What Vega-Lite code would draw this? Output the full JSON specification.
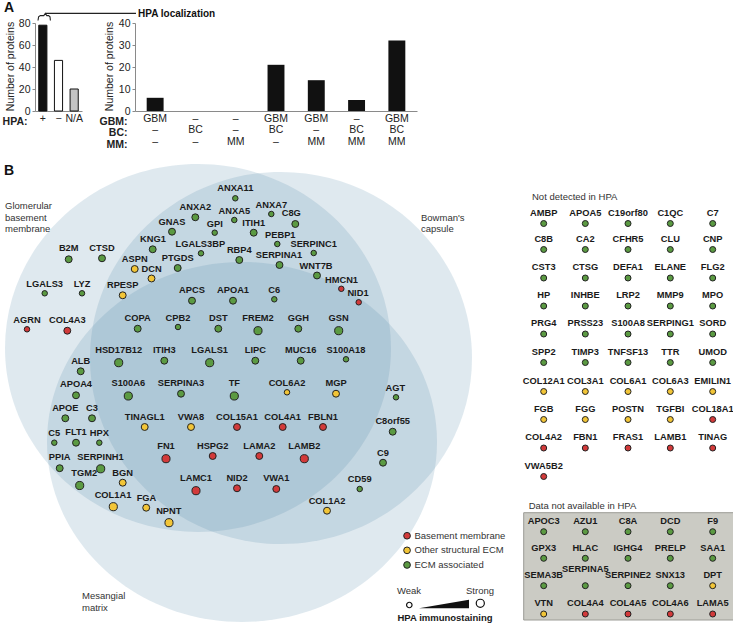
{
  "$schema": "https://vega.github.io/schema/vega-lite/v6.json",
  "padding": {"left": 2, "top": 0, "right": 0, "bottom": 0},
  "background": "white",
  "bounds": "flush",
  "spacing": 147,
  "config": {
    "font": "Liberation Sans",
    "view": {"stroke": null},
    "axis": {"labelFont": "Liberation Sans", "titleFont": "Liberation Sans", "labelColor": "#222", "titleColor": "#222", "domainColor": "#8a8a8a", "tickColor": "#8a8a8a", "grid": false, "labelFontSize": 10.5, "titleFontSize": 10.5, "tickSize": 3},
    "legend": {"labelFont": "Liberation Sans"}
  },
  "datasets": {
    "hpa": [
      {"hpa": "+", "n": 78},
      {"hpa": "−", "n": 46},
      {"hpa": "N/A", "n": 20}
    ],
    "combo": [
      {"combo": "GBM|–|–", "n": 6},
      {"combo": "–|BC|–", "n": 0},
      {"combo": "–|–|MM", "n": 0},
      {"combo": "GBM|BC|–", "n": 21},
      {"combo": "GBM|–|MM", "n": 14},
      {"combo": "–|BC|MM", "n": 5},
      {"combo": "GBM|BC|MM", "n": 32}
    ],
    "sets": [
      {"set": "GBM", "x": 196, "y": 348, "a": 193},
      {"set": "BC", "x": 279, "y": 358, "a": 191},
      {"set": "MM", "x": 240, "y": 442, "a": 195}
    ],
    "box": [{"x": 521.7, "x2": 731.7, "y": 512.7, "y2": 620}],
    "regions": [
      {"text": "Glomerular\nbasement\nmembrane", "x": 3, "y": 201},
      {"text": "Bowman's\ncapsule", "x": 419, "y": 212.7},
      {"text": "Mesangial\nmatrix", "x": 80, "y": 591.4}
    ],
    "bracket": [
      {"id": "brace", "seq": 1, "x": 36, "y": 20.5},
      {"id": "brace", "seq": 2, "x": 36.6, "y": 16.8},
      {"id": "brace", "seq": 3, "x": 38.3, "y": 15.6},
      {"id": "brace", "seq": 4, "x": 41.8, "y": 15.6},
      {"id": "brace", "seq": 5, "x": 43.3, "y": 13.4},
      {"id": "brace", "seq": 6, "x": 44.8, "y": 15.6},
      {"id": "brace", "seq": 7, "x": 46.6, "y": 15.6},
      {"id": "brace", "seq": 8, "x": 48, "y": 16.8},
      {"id": "brace", "seq": 9, "x": 48.4, "y": 20.5},
      {"id": "line", "seq": 1, "x": 43.3, "y": 13.4},
      {"id": "line", "seq": 2, "x": 134, "y": 13.4}
    ],
    "notes": [
      {"kind": "letter", "text": "A", "x": 2, "y": 0.5},
      {"kind": "letter", "text": "B", "x": 2, "y": 164},
      {"kind": "title", "text": "HPA localization", "x": 136, "y": 14},
      {"kind": "header", "text": "Not detected in HPA", "x": 530, "y": 196.7},
      {"kind": "header", "text": "Data not available in HPA", "x": 526.7, "y": 505.7},
      {"kind": "scale", "text": "Weak", "x": 407, "y": 590.7},
      {"kind": "scale", "text": "Strong", "x": 478, "y": 590.7},
      {"kind": "scaletitle", "text": "HPA immunostaining", "x": 443, "y": 618.3}
    ],
    "sizeleg": [
      {"stain": "weak", "x": 407.3, "y": 605},
      {"stain": "strong", "x": 478.3, "y": 603.3}
    ],
    "wedge": [{"x": 442, "y": 604}],
    "venn": [
      {"name": "B2M", "cat": "ECM associated", "stain": "moderate", "x": 66.7, "y": 259.3, "lx": 66.7, "ly": 247.7},
      {"name": "CTSD", "cat": "ECM associated", "stain": "moderate", "x": 100, "y": 258.3, "lx": 100, "ly": 247.7},
      {"name": "LGALS3", "cat": "ECM associated", "stain": "weak", "x": 42.7, "y": 293.3, "lx": 42.7, "ly": 284.3},
      {"name": "LYZ", "cat": "ECM associated", "stain": "weak", "x": 80, "y": 293.3, "lx": 80, "ly": 284.3},
      {"name": "AGRN", "cat": "Basement membrane", "stain": "weak", "x": 25, "y": 329.3, "lx": 25, "ly": 320},
      {"name": "COL4A3", "cat": "Basement membrane", "stain": "moderate", "x": 65.3, "y": 330.7, "lx": 65.3, "ly": 320},
      {"name": "ANXA11", "cat": "ECM associated", "stain": "weak", "x": 233.3, "y": 198.3, "lx": 233.3, "ly": 188.3},
      {"name": "ANXA2", "cat": "ECM associated", "stain": "moderate", "x": 193.3, "y": 217.3, "lx": 193.3, "ly": 206.7},
      {"name": "ANXA5", "cat": "ECM associated", "stain": "weak", "x": 232.3, "y": 220, "lx": 232.3, "ly": 210.7},
      {"name": "ANXA7", "cat": "ECM associated", "stain": "weak", "x": 269.3, "y": 214, "lx": 269.3, "ly": 205},
      {"name": "C8G", "cat": "ECM associated", "stain": "moderate", "x": 293.3, "y": 224, "lx": 289.3, "ly": 213.3},
      {"name": "GNAS", "cat": "ECM associated", "stain": "moderate", "x": 170, "y": 231.7, "lx": 170, "ly": 221.7},
      {"name": "GPI", "cat": "ECM associated", "stain": "weak", "x": 212.7, "y": 232.7, "lx": 212.7, "ly": 224},
      {"name": "ITIH1", "cat": "ECM associated", "stain": "moderate", "x": 251.7, "y": 232.7, "lx": 251.7, "ly": 223.3},
      {"name": "PEBP1", "cat": "ECM associated", "stain": "weak", "x": 275.3, "y": 244, "lx": 278.3, "ly": 235},
      {"name": "KNG1", "cat": "ECM associated", "stain": "moderate", "x": 150.7, "y": 249.3, "lx": 151, "ly": 239.3},
      {"name": "LGALS3BP", "cat": "ECM associated", "stain": "weak", "x": 199, "y": 253.3, "lx": 198.3, "ly": 244},
      {"name": "RBP4", "cat": "ECM associated", "stain": "moderate", "x": 237.3, "y": 260, "lx": 237.3, "ly": 250},
      {"name": "SERPINC1", "cat": "ECM associated", "stain": "weak", "x": 311.7, "y": 253, "lx": 311.7, "ly": 244.2},
      {"name": "PTGDS", "cat": "ECM associated", "stain": "moderate", "x": 175.7, "y": 268, "lx": 175.7, "ly": 257.7},
      {"name": "SERPINA1", "cat": "ECM associated", "stain": "moderate", "x": 277.5, "y": 265, "lx": 277, "ly": 255},
      {"name": "ASPN", "cat": "Other structural ECM", "stain": "moderate", "x": 132.7, "y": 269, "lx": 132.7, "ly": 259},
      {"name": "DCN", "cat": "Other structural ECM", "stain": "moderate", "x": 149.5, "y": 278.5, "lx": 149.7, "ly": 268.5},
      {"name": "WNT7B", "cat": "ECM associated", "stain": "moderate", "x": 315, "y": 275.5, "lx": 314, "ly": 265.7},
      {"name": "HMCN1", "cat": "Basement membrane", "stain": "weak", "x": 339.3, "y": 288.8, "lx": 339.5, "ly": 280},
      {"name": "NID1", "cat": "Basement membrane", "stain": "weak", "x": 356.7, "y": 302.3, "lx": 356, "ly": 293.3},
      {"name": "RPESP", "cat": "Other structural ECM", "stain": "moderate", "x": 120.7, "y": 295.3, "lx": 120.7, "ly": 285},
      {"name": "APCS", "cat": "ECM associated", "stain": "moderate", "x": 190, "y": 300.7, "lx": 190, "ly": 290},
      {"name": "APOA1", "cat": "ECM associated", "stain": "moderate", "x": 231, "y": 300.7, "lx": 231, "ly": 290},
      {"name": "C6", "cat": "ECM associated", "stain": "weak", "x": 272.3, "y": 299.3, "lx": 272.3, "ly": 290},
      {"name": "COPA", "cat": "ECM associated", "stain": "moderate", "x": 135.7, "y": 328.7, "lx": 135.7, "ly": 318.3},
      {"name": "CPB2", "cat": "ECM associated", "stain": "weak", "x": 176, "y": 327, "lx": 176, "ly": 318.3},
      {"name": "DST", "cat": "ECM associated", "stain": "moderate", "x": 216.3, "y": 328.7, "lx": 216.3, "ly": 318.3},
      {"name": "FREM2", "cat": "ECM associated", "stain": "strong", "x": 256, "y": 330.7, "lx": 256, "ly": 318.3},
      {"name": "GGH", "cat": "ECM associated", "stain": "moderate", "x": 296.3, "y": 328.7, "lx": 296.3, "ly": 318.3},
      {"name": "GSN", "cat": "ECM associated", "stain": "strong", "x": 336.7, "y": 330.7, "lx": 336.7, "ly": 318.3},
      {"name": "HSD17B12", "cat": "ECM associated", "stain": "strong", "x": 116.7, "y": 362.7, "lx": 116.7, "ly": 350.3},
      {"name": "ITIH3", "cat": "ECM associated", "stain": "moderate", "x": 162.3, "y": 360.7, "lx": 162.3, "ly": 350.3},
      {"name": "LGALS1", "cat": "ECM associated", "stain": "strong", "x": 207.7, "y": 362.7, "lx": 207.7, "ly": 350.3},
      {"name": "LIPC", "cat": "ECM associated", "stain": "moderate", "x": 253.3, "y": 360.7, "lx": 253.3, "ly": 350.3},
      {"name": "MUC16", "cat": "ECM associated", "stain": "moderate", "x": 298.7, "y": 360.7, "lx": 298.7, "ly": 350.3},
      {"name": "S100A18", "cat": "ECM associated", "stain": "weak", "x": 344, "y": 359.3, "lx": 344, "ly": 350.3},
      {"name": "S100A6", "cat": "ECM associated", "stain": "strong", "x": 126.3, "y": 396, "lx": 126.3, "ly": 383.3},
      {"name": "SERPINA3", "cat": "ECM associated", "stain": "moderate", "x": 179, "y": 393.7, "lx": 179, "ly": 383.3},
      {"name": "TF", "cat": "ECM associated", "stain": "strong", "x": 232.3, "y": 396, "lx": 232.3, "ly": 383.3},
      {"name": "COL6A2", "cat": "Other structural ECM", "stain": "weak", "x": 285, "y": 392.3, "lx": 285, "ly": 383.3},
      {"name": "MGP", "cat": "Other structural ECM", "stain": "moderate", "x": 334, "y": 393.7, "lx": 334, "ly": 383.3},
      {"name": "TINAGL1", "cat": "Other structural ECM", "stain": "moderate", "x": 142.7, "y": 427, "lx": 142.7, "ly": 416.7},
      {"name": "VWA8", "cat": "Other structural ECM", "stain": "moderate", "x": 189, "y": 427, "lx": 189, "ly": 416.7},
      {"name": "COL15A1", "cat": "Basement membrane", "stain": "moderate", "x": 235, "y": 427, "lx": 235, "ly": 416.7},
      {"name": "COL4A1", "cat": "Basement membrane", "stain": "moderate", "x": 280.7, "y": 427, "lx": 280.7, "ly": 416.7},
      {"name": "FBLN1", "cat": "Basement membrane", "stain": "moderate", "x": 321, "y": 427, "lx": 321, "ly": 416.7},
      {"name": "FN1", "cat": "Basement membrane", "stain": "strong", "x": 164, "y": 458.7, "lx": 164, "ly": 446},
      {"name": "HSPG2", "cat": "Basement membrane", "stain": "moderate", "x": 210.7, "y": 456, "lx": 210.7, "ly": 446},
      {"name": "LAMA2", "cat": "Basement membrane", "stain": "moderate", "x": 257.3, "y": 456, "lx": 257.3, "ly": 446},
      {"name": "LAMB2", "cat": "Basement membrane", "stain": "strong", "x": 302.3, "y": 458.7, "lx": 302.3, "ly": 446},
      {"name": "LAMC1", "cat": "Basement membrane", "stain": "strong", "x": 194, "y": 490.7, "lx": 194, "ly": 478.3},
      {"name": "NID2", "cat": "Basement membrane", "stain": "moderate", "x": 235, "y": 488.3, "lx": 235, "ly": 478.3},
      {"name": "VWA1", "cat": "Basement membrane", "stain": "moderate", "x": 274.3, "y": 489, "lx": 274.3, "ly": 478.3},
      {"name": "ALB", "cat": "ECM associated", "stain": "moderate", "x": 78.7, "y": 371.3, "lx": 78.7, "ly": 361},
      {"name": "APOA4", "cat": "ECM associated", "stain": "moderate", "x": 74, "y": 395.3, "lx": 74, "ly": 384.3},
      {"name": "APOE", "cat": "ECM associated", "stain": "moderate", "x": 63.3, "y": 418.3, "lx": 63.3, "ly": 407.7},
      {"name": "C3", "cat": "ECM associated", "stain": "moderate", "x": 90, "y": 418.3, "lx": 90, "ly": 407.7},
      {"name": "C5", "cat": "ECM associated", "stain": "weak", "x": 52.3, "y": 442.7, "lx": 52.3, "ly": 433.3},
      {"name": "FLT1", "cat": "ECM associated", "stain": "moderate", "x": 74, "y": 442.7, "lx": 74, "ly": 432.3},
      {"name": "HPX", "cat": "ECM associated", "stain": "weak", "x": 97.3, "y": 442.7, "lx": 97.3, "ly": 433.3},
      {"name": "PPIA", "cat": "ECM associated", "stain": "moderate", "x": 57.7, "y": 468.2, "lx": 57.7, "ly": 457.3},
      {"name": "SERPINH1", "cat": "ECM associated", "stain": "strong", "x": 98.7, "y": 468.8, "lx": 98.5, "ly": 457},
      {"name": "TGM2", "cat": "ECM associated", "stain": "strong", "x": 77.7, "y": 485.5, "lx": 82.2, "ly": 473.3},
      {"name": "BGN", "cat": "Other structural ECM", "stain": "moderate", "x": 120.7, "y": 482.7, "lx": 120.7, "ly": 472.7},
      {"name": "COL1A1", "cat": "Other structural ECM", "stain": "strong", "x": 111.3, "y": 506.7, "lx": 111, "ly": 494.5},
      {"name": "FGA", "cat": "Other structural ECM", "stain": "moderate", "x": 144.2, "y": 507.7, "lx": 144.5, "ly": 497.8},
      {"name": "NPNT", "cat": "Other structural ECM", "stain": "strong", "x": 167, "y": 522.7, "lx": 166.8, "ly": 510.7},
      {"name": "AGT", "cat": "ECM associated", "stain": "weak", "x": 394, "y": 397.3, "lx": 393.3, "ly": 388.3},
      {"name": "C8orf55", "cat": "ECM associated", "stain": "moderate", "x": 390.7, "y": 431.7, "lx": 390.7, "ly": 420.7},
      {"name": "C9", "cat": "ECM associated", "stain": "moderate", "x": 381, "y": 462.7, "lx": 381, "ly": 452.7},
      {"name": "CD59", "cat": "ECM associated", "stain": "weak", "x": 357.7, "y": 489, "lx": 357.7, "ly": 479.3},
      {"name": "COL1A2", "cat": "Other structural ECM", "stain": "moderate", "x": 325, "y": 510.7, "lx": 325, "ly": 501}
    ],
    "lists": [
      {"name": "AMBP", "cat": "ECM associated", "x": 541.7, "y": 223.5, "ly": 212.7},
      {"name": "APOA5", "cat": "ECM associated", "x": 583.3, "y": 223.5, "ly": 212.7},
      {"name": "C19orf80", "cat": "ECM associated", "x": 626, "y": 223.5, "ly": 212.7},
      {"name": "C1QC", "cat": "ECM associated", "x": 668.3, "y": 223.5, "ly": 212.7},
      {"name": "C7", "cat": "ECM associated", "x": 710.7, "y": 223.5, "ly": 212.7},
      {"name": "C8B", "cat": "ECM associated", "x": 541.7, "y": 249.5, "ly": 238.7},
      {"name": "CA2", "cat": "ECM associated", "x": 583.3, "y": 249.5, "ly": 238.7},
      {"name": "CFHR5", "cat": "ECM associated", "x": 626, "y": 249.5, "ly": 238.7},
      {"name": "CLU", "cat": "ECM associated", "x": 668.3, "y": 249.5, "ly": 238.7},
      {"name": "CNP", "cat": "ECM associated", "x": 710.7, "y": 249.5, "ly": 238.7},
      {"name": "CST3", "cat": "ECM associated", "x": 541.7, "y": 278, "ly": 267.2},
      {"name": "CTSG", "cat": "ECM associated", "x": 583.3, "y": 278, "ly": 267.2},
      {"name": "DEFA1", "cat": "ECM associated", "x": 626, "y": 278, "ly": 267.2},
      {"name": "ELANE", "cat": "ECM associated", "x": 668.3, "y": 278, "ly": 267.2},
      {"name": "FLG2", "cat": "ECM associated", "x": 710.7, "y": 278, "ly": 267.2},
      {"name": "HP", "cat": "ECM associated", "x": 541.7, "y": 306, "ly": 295.2},
      {"name": "INHBE", "cat": "ECM associated", "x": 583.3, "y": 306, "ly": 295.2},
      {"name": "LRP2", "cat": "ECM associated", "x": 626, "y": 306, "ly": 295.2},
      {"name": "MMP9", "cat": "ECM associated", "x": 668.3, "y": 306, "ly": 295.2},
      {"name": "MPO", "cat": "ECM associated", "x": 710.7, "y": 306, "ly": 295.2},
      {"name": "PRG4", "cat": "ECM associated", "x": 541.7, "y": 334, "ly": 323.2},
      {"name": "PRSS23", "cat": "ECM associated", "x": 583.3, "y": 334, "ly": 323.2},
      {"name": "S100A8", "cat": "ECM associated", "x": 626, "y": 334, "ly": 323.2},
      {"name": "SERPING1", "cat": "ECM associated", "x": 668.3, "y": 334, "ly": 323.2},
      {"name": "SORD", "cat": "ECM associated", "x": 710.7, "y": 334, "ly": 323.2},
      {"name": "SPP2", "cat": "ECM associated", "x": 541.7, "y": 362.5, "ly": 351.7},
      {"name": "TIMP3", "cat": "ECM associated", "x": 583.3, "y": 362.5, "ly": 351.7},
      {"name": "TNFSF13", "cat": "ECM associated", "x": 626, "y": 362.5, "ly": 351.7},
      {"name": "TTR", "cat": "ECM associated", "x": 668.3, "y": 362.5, "ly": 351.7},
      {"name": "UMOD", "cat": "ECM associated", "x": 710.7, "y": 362.5, "ly": 351.7},
      {"name": "COL12A1", "cat": "Other structural ECM", "x": 541.7, "y": 391.5, "ly": 380.7},
      {"name": "COL3A1", "cat": "Other structural ECM", "x": 583.3, "y": 391.5, "ly": 380.7},
      {"name": "COL6A1", "cat": "Other structural ECM", "x": 626, "y": 391.5, "ly": 380.7},
      {"name": "COL6A3", "cat": "Other structural ECM", "x": 668.3, "y": 391.5, "ly": 380.7},
      {"name": "EMILIN1", "cat": "Other structural ECM", "x": 710.7, "y": 391.5, "ly": 380.7},
      {"name": "FGB", "cat": "Other structural ECM", "x": 541.7, "y": 419.5, "ly": 408.7},
      {"name": "FGG", "cat": "Other structural ECM", "x": 583.3, "y": 419.5, "ly": 408.7},
      {"name": "POSTN", "cat": "Other structural ECM", "x": 626, "y": 419.5, "ly": 408.7},
      {"name": "TGFBI", "cat": "Other structural ECM", "x": 668.3, "y": 419.5, "ly": 408.7},
      {"name": "COL18A1", "cat": "Basement membrane", "x": 710.7, "y": 419.5, "ly": 408.7},
      {"name": "COL4A2", "cat": "Basement membrane", "x": 541.7, "y": 448, "ly": 437.2},
      {"name": "FBN1", "cat": "Basement membrane", "x": 583.3, "y": 448, "ly": 437.2},
      {"name": "FRAS1", "cat": "Basement membrane", "x": 626, "y": 448, "ly": 437.2},
      {"name": "LAMB1", "cat": "Basement membrane", "x": 668.3, "y": 448, "ly": 437.2},
      {"name": "TINAG", "cat": "Basement membrane", "x": 710.7, "y": 448, "ly": 437.2},
      {"name": "VWA5B2", "cat": "Basement membrane", "x": 541.7, "y": 476.5, "ly": 465.7},
      {"name": "APOC3", "cat": "ECM associated", "x": 541.7, "y": 531.7, "ly": 520.9},
      {"name": "AZU1", "cat": "ECM associated", "x": 583.3, "y": 531.7, "ly": 520.9},
      {"name": "C8A", "cat": "ECM associated", "x": 626, "y": 531.7, "ly": 520.9},
      {"name": "DCD", "cat": "ECM associated", "x": 668.3, "y": 531.7, "ly": 520.9},
      {"name": "F9", "cat": "ECM associated", "x": 710.7, "y": 531.7, "ly": 520.9},
      {"name": "GPX3", "cat": "ECM associated", "x": 541.7, "y": 558.3, "ly": 547.5},
      {"name": "HLAC", "cat": "ECM associated", "x": 583.3, "y": 558.3, "ly": 547.5},
      {"name": "IGHG4", "cat": "ECM associated", "x": 626, "y": 558.3, "ly": 547.5},
      {"name": "PRELP", "cat": "ECM associated", "x": 668.3, "y": 558.3, "ly": 547.5},
      {"name": "SAA1", "cat": "ECM associated", "x": 710.7, "y": 558.3, "ly": 547.5},
      {"name": "SEMA3B", "cat": "ECM associated", "x": 541.7, "y": 585.7, "ly": 574.9},
      {"name": "SERPINA5", "cat": "ECM associated", "x": 583.3, "y": 585.7, "ly": 569},
      {"name": "SERPINE2", "cat": "ECM associated", "x": 626, "y": 585.7, "ly": 574.9},
      {"name": "SNX13", "cat": "ECM associated", "x": 668.3, "y": 585.7, "ly": 574.9},
      {"name": "DPT", "cat": "Other structural ECM", "x": 710.7, "y": 585.7, "ly": 574.9},
      {"name": "VTN", "cat": "Other structural ECM", "x": 541.7, "y": 614, "ly": 603.2},
      {"name": "COL4A4", "cat": "Basement membrane", "x": 583.3, "y": 614, "ly": 603.2},
      {"name": "COL4A5", "cat": "Basement membrane", "x": 626, "y": 614, "ly": 603.2},
      {"name": "COL4A6", "cat": "Basement membrane", "x": 668.3, "y": 614, "ly": 603.2},
      {"name": "LAMA5", "cat": "Basement membrane", "x": 710.7, "y": 614, "ly": 603.2}
    ]
  },
  "vconcat": [
    {
      "hconcat": [
        {
          "width": 47,
          "height": 88,
          "data": {"name": "hpa"},
          "mark": {"type": "bar", "stroke": "#111", "strokeWidth": 1},
          "encoding": {
            "x": {"field": "hpa", "type": "nominal", "sort": null,
              "scale": {"paddingInner": 0.48, "paddingOuter": 0.24},
              "axis": {"title": "HPA:", "titleFontWeight": "bold", "titleX": -8, "titleY": 5.4, "titleAlign": "right", "titleBaseline": "top", "titleAngle": 0, "labelAngle": 0, "labelPadding": 2, "ticks": false}},
            "y": {"field": "n", "type": "quantitative",
              "scale": {"domain": [0, 80], "nice": false},
              "axis": {"values": [0, 20, 40, 60, 80], "title": "Number of proteins", "titleFontWeight": "normal", "titleX": -25, "titleY": 43, "titleAngle": 270, "titleAlign": "center", "titleBaseline": "middle", "labelPadding": 2}},
            "fill": {"field": "hpa", "type": "nominal",
              "scale": {"domain": ["+", "−", "N/A"], "range": ["#111111", "#ffffff", "#c4c4c4"]}, "legend": null}
          }
        },
        {
          "width": 282,
          "height": 88,
          "data": {"name": "combo"},
          "mark": {"type": "bar", "fill": "#111", "strokeWidth": 0},
          "encoding": {
            "x": {"field": "combo", "type": "nominal", "sort": null,
              "scale": {"paddingInner": 0.58, "paddingOuter": 0.29},
              "axis": {"labelExpr": "split(datum.label, '|')", "labelLineHeight": 11.5, "labelAngle": 0, "labelPadding": 2, "ticks": false, "title": ["GBM:", "BC:", "MM:"], "titleFontWeight": "bold", "titleX": -8, "titleY": 5.4, "titleAlign": "right", "titleBaseline": "top", "titleAngle": 0, "titleLineHeight": 11.5}},
            "y": {"field": "n", "type": "quantitative",
              "scale": {"domain": [0, 40], "nice": false},
              "axis": {"values": [0, 10, 20, 30, 40], "title": "Number of proteins", "titleFontWeight": "normal", "titleX": -26, "titleY": 43, "titleAngle": 270, "titleAlign": "center", "titleBaseline": "middle", "labelPadding": 2}}
          }
        }
      ],
      "spacing": 53,
      "bounds": "flush"
    },
    {
      "width": 700,
      "height": 455,
      "resolve": {"scale": {"size": "independent", "shape": "independent"}},
      "layer": [
        {
          "data": {"name": "sets"},
          "mark": {"type": "point", "filled": true, "fill": "#4d85a6", "fillOpacity": 0.18, "opacity": 1, "strokeWidth": 0},
          "encoding": {
            "x": {"field": "x", "type": "quantitative", "scale": {"domain": [33, 733], "nice": false, "zero": false}, "axis": null},
            "y": {"field": "y", "type": "quantitative", "scale": {"domain": [170, 625], "nice": false, "zero": false, "reverse": true}, "axis": null},
            "shape": {"field": "set", "type": "nominal", "legend": null,
              "scale": {"domain": ["GBM", "BC", "MM"], "range": [
                "M-1,0C-1,-0.5263,-0.5523,-0.953,0,-0.953C0.5523,-0.953,1,-0.5263,1,0C1,0.5263,0.5523,0.953,0,0.953C-0.5523,0.953,-1,0.5263,-1,0Z",
                "M-1,0C-1,-0.5379,-0.5523,-0.974,0,-0.974C0.5523,-0.974,1,-0.5379,1,0C1,0.5379,0.5523,0.974,0,0.974C-0.5523,0.974,-1,0.5379,-1,0Z",
                "M-1,0C-1,-0.5098,-0.5523,-0.923,0,-0.923C0.5523,-0.923,1,-0.5098,1,0C1,0.5098,0.5523,0.923,0,0.923C-0.5523,0.923,-1,0.5098,-1,0Z"]}},
            "size": {"field": "a", "type": "quantitative", "legend": null,
              "scale": {"type": "pow", "exponent": 2, "domain": [0, 200], "range": [0, 160000], "zero": true}}
          }
        },
        {
          "data": {"name": "box"},
          "mark": {"type": "rect", "fill": "#cbcbc4", "stroke": "#9c9c96", "strokeWidth": 1},
          "encoding": {
            "x": {"field": "x", "type": "quantitative", "scale": {"domain": [33, 733], "nice": false, "zero": false}, "axis": null},
            "x2": {"field": "x2"},
            "y": {"field": "y", "type": "quantitative", "scale": {"domain": [170, 625], "nice": false, "zero": false, "reverse": true}, "axis": null},
            "y2": {"field": "y2"}
          }
        },
        {
          "data": {"name": "regions"},
          "mark": {"type": "text", "align": "left", "baseline": "top", "fontSize": 9.5, "color": "#333", "lineBreak": "\n", "lineHeight": 11.5},
          "encoding": {
            "x": {"field": "x", "type": "quantitative", "scale": {"domain": [33, 733], "nice": false, "zero": false}, "axis": null},
            "y": {"field": "y", "type": "quantitative", "scale": {"domain": [170, 625], "nice": false, "zero": false, "reverse": true}, "axis": null},
            "text": {"field": "text"}
          }
        },
        {
          "data": {"name": "bracket"},
          "mark": {"type": "line", "stroke": "#222", "strokeWidth": 1.1},
          "encoding": {
            "x": {"field": "x", "type": "quantitative", "scale": {"domain": [33, 733], "nice": false, "zero": false}, "axis": null},
            "y": {"field": "y", "type": "quantitative", "scale": {"domain": [170, 625], "nice": false, "zero": false, "reverse": true}, "axis": null},
            "detail": {"field": "id"},
            "order": {"field": "seq"}
          }
        },
        {
          "data": {"name": "notes"},
          "transform": [{"filter": "datum.kind == 'letter'"}],
          "mark": {"type": "text", "align": "left", "baseline": "top", "fontSize": 14, "fontWeight": "bold", "color": "#111"},
          "encoding": {
            "x": {"field": "x", "type": "quantitative", "scale": {"domain": [33, 733], "nice": false, "zero": false}, "axis": null},
            "y": {"field": "y", "type": "quantitative", "scale": {"domain": [170, 625], "nice": false, "zero": false, "reverse": true}, "axis": null},
            "text": {"field": "text"}
          }
        },
        {
          "data": {"name": "notes"},
          "transform": [{"filter": "datum.kind == 'title'"}],
          "mark": {"type": "text", "align": "left", "baseline": "middle", "fontSize": 10, "fontWeight": "bold", "color": "#111"},
          "encoding": {
            "x": {"field": "x", "type": "quantitative", "scale": {"domain": [33, 733], "nice": false, "zero": false}, "axis": null},
            "y": {"field": "y", "type": "quantitative", "scale": {"domain": [170, 625], "nice": false, "zero": false, "reverse": true}, "axis": null},
            "text": {"field": "text"}
          }
        },
        {
          "data": {"name": "notes"},
          "transform": [{"filter": "datum.kind == 'header'"}],
          "mark": {"type": "text", "align": "left", "baseline": "middle", "fontSize": 9.5, "color": "#333"},
          "encoding": {
            "x": {"field": "x", "type": "quantitative", "scale": {"domain": [33, 733], "nice": false, "zero": false}, "axis": null},
            "y": {"field": "y", "type": "quantitative", "scale": {"domain": [170, 625], "nice": false, "zero": false, "reverse": true}, "axis": null},
            "text": {"field": "text"}
          }
        },
        {
          "data": {"name": "notes"},
          "transform": [{"filter": "datum.kind == 'scale'"}],
          "mark": {"type": "text", "align": "center", "baseline": "middle", "fontSize": 9.5, "color": "#333"},
          "encoding": {
            "x": {"field": "x", "type": "quantitative", "scale": {"domain": [33, 733], "nice": false, "zero": false}, "axis": null},
            "y": {"field": "y", "type": "quantitative", "scale": {"domain": [170, 625], "nice": false, "zero": false, "reverse": true}, "axis": null},
            "text": {"field": "text"}
          }
        },
        {
          "data": {"name": "notes"},
          "transform": [{"filter": "datum.kind == 'scaletitle'"}],
          "mark": {"type": "text", "align": "center", "baseline": "middle", "fontSize": 9.5, "fontWeight": "bold", "color": "#1a1a1a"},
          "encoding": {
            "x": {"field": "x", "type": "quantitative", "scale": {"domain": [33, 733], "nice": false, "zero": false}, "axis": null},
            "y": {"field": "y", "type": "quantitative", "scale": {"domain": [170, 625], "nice": false, "zero": false, "reverse": true}, "axis": null},
            "text": {"field": "text"}
          }
        },
        {
          "data": {"name": "venn"},
          "mark": {"type": "point", "shape": "circle", "filled": true, "opacity": 1, "stroke": "#222", "strokeWidth": 1},
          "encoding": {
            "x": {"field": "x", "type": "quantitative", "scale": {"domain": [33, 733], "nice": false, "zero": false}, "axis": null},
            "y": {"field": "y", "type": "quantitative", "scale": {"domain": [170, 625], "nice": false, "zero": false, "reverse": true}, "axis": null},
            "color": {"field": "cat", "type": "nominal",
              "scale": {"domain": ["Basement membrane", "Other structural ECM", "ECM associated"], "range": ["#d23a3a", "#f2c537", "#5b9a42"]},
              "legend": {"orient": "none", "legendX": 367.3, "legendY": 508, "title": null, "symbolType": "circle", "symbolSize": 45, "symbolStrokeColor": "#222", "symbolStrokeWidth": 1, "symbolOpacity": 1, "labelFontSize": 9.5, "labelColor": "#333", "rowPadding": 2.6, "padding": 0, "labelOffset": 2.7}},
            "size": {"field": "stain", "type": "ordinal", "legend": null,
              "scale": {"domain": ["weak", "moderate", "strong"], "range": [30, 66, 160]}}
          }
        },
        {
          "data": {"name": "venn"},
          "mark": {"type": "text", "align": "center", "baseline": "middle", "fontSize": 9.3, "fontWeight": "bold", "color": "#1a1a1a"},
          "encoding": {
            "x": {"field": "lx", "type": "quantitative", "scale": {"domain": [33, 733], "nice": false, "zero": false}, "axis": null},
            "y": {"field": "ly", "type": "quantitative", "scale": {"domain": [170, 625], "nice": false, "zero": false, "reverse": true}, "axis": null},
            "text": {"field": "name"}
          }
        },
        {
          "data": {"name": "lists"},
          "mark": {"type": "point", "shape": "circle", "filled": true, "opacity": 1, "stroke": "#222", "strokeWidth": 1, "size": 36},
          "encoding": {
            "x": {"field": "x", "type": "quantitative", "scale": {"domain": [33, 733], "nice": false, "zero": false}, "axis": null},
            "y": {"field": "y", "type": "quantitative", "scale": {"domain": [170, 625], "nice": false, "zero": false, "reverse": true}, "axis": null},
            "color": {"field": "cat", "type": "nominal",
              "scale": {"domain": ["Basement membrane", "Other structural ECM", "ECM associated"], "range": ["#d23a3a", "#f2c537", "#5b9a42"]},
              "legend": {"orient": "none", "legendX": 367.3, "legendY": 508, "title": null, "symbolType": "circle", "symbolSize": 45, "symbolStrokeColor": "#222", "symbolStrokeWidth": 1, "symbolOpacity": 1, "labelFontSize": 9.5, "labelColor": "#333", "rowPadding": 2.6, "padding": 0, "labelOffset": 2.7}}
          }
        },
        {
          "data": {"name": "lists"},
          "mark": {"type": "text", "align": "center", "baseline": "middle", "fontSize": 9.3, "fontWeight": "bold", "color": "#1a1a1a"},
          "encoding": {
            "x": {"field": "x", "type": "quantitative", "scale": {"domain": [33, 733], "nice": false, "zero": false}, "axis": null},
            "y": {"field": "ly", "type": "quantitative", "scale": {"domain": [170, 625], "nice": false, "zero": false, "reverse": true}, "axis": null},
            "text": {"field": "name"}
          }
        },
        {
          "data": {"name": "sizeleg"},
          "mark": {"type": "point", "shape": "circle", "filled": true, "fill": "white", "opacity": 1, "stroke": "#111", "strokeWidth": 1.2},
          "encoding": {
            "x": {"field": "x", "type": "quantitative", "scale": {"domain": [33, 733], "nice": false, "zero": false}, "axis": null},
            "y": {"field": "y", "type": "quantitative", "scale": {"domain": [170, 625], "nice": false, "zero": false, "reverse": true}, "axis": null},
            "size": {"field": "stain", "type": "ordinal", "legend": null,
              "scale": {"domain": ["weak", "moderate", "strong"], "range": [30, 66, 160]}}
          }
        },
        {
          "data": {"name": "wedge"},
          "mark": {"type": "point", "shape": "M-1,0.174L1,-0.174L1,0.174Z", "size": 2500, "filled": true, "fill": "#111", "opacity": 1, "strokeWidth": 0},
          "encoding": {
            "x": {"field": "x", "type": "quantitative", "scale": {"domain": [33, 733], "nice": false, "zero": false}, "axis": null},
            "y": {"field": "y", "type": "quantitative", "scale": {"domain": [170, 625], "nice": false, "zero": false, "reverse": true}, "axis": null}
          }
        }
      ]
    }
  ]
}
